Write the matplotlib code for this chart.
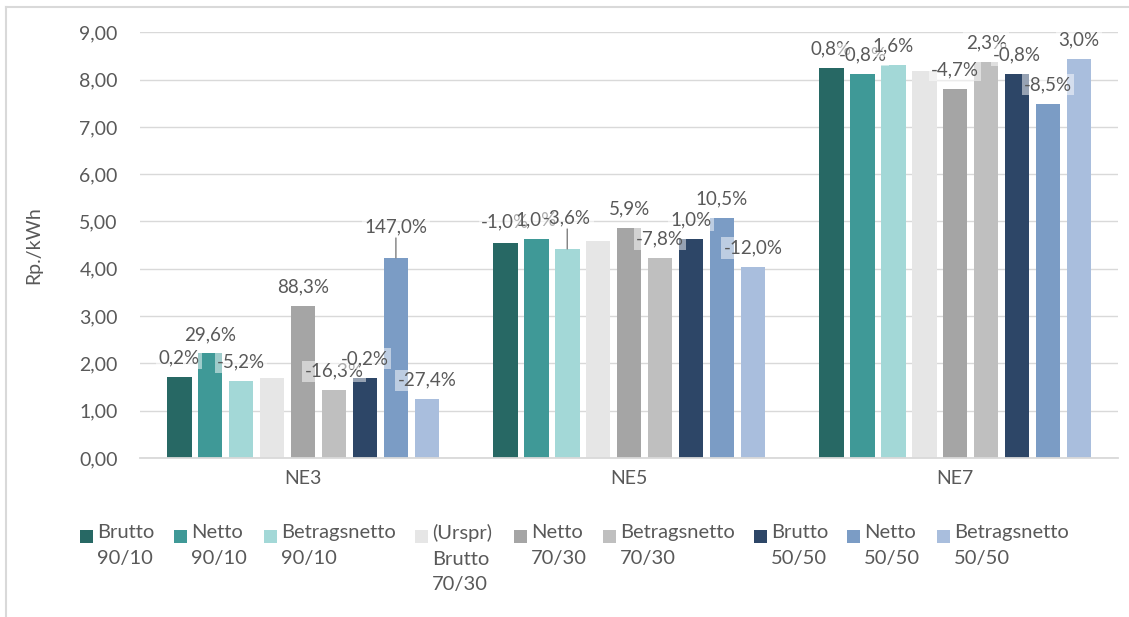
import numpy as np
import matplotlib.pyplot as plt
from matplotlib.lines import Line2D
from matplotlib.patches import Rectangle

plt.rcParams['font.family'] = ['Lato', 'DejaVu Sans']

# ## Data ## #
categories = ['NE3', 'NE5', 'NE7']

series = ['Brutto\n90/10', 'Netto\n90/10', 'Betragsnetto\n90/10',
          '(Urspr)\nBrutto\n70/30', 'Netto\n70/30', 'Betragsnetto\n70/30',
          'Brutto\n50/50', 'Netto\n50/50', 'Betragsnetto\n50/50']

# Rp./kWh, one list per series (NE3, NE5, NE7)
brutto_90 = [1.71, 4.54, 8.24]
netto_90 = [2.21, 4.63, 8.12]
betrag_90 = [1.62, 4.42, 8.31]
urspr_70 = [1.70, 4.59, 8.18]
netto_70 = [3.22, 4.86, 7.80]
betrag_70 = [1.43, 4.23, 8.37]
brutto_50 = [1.70, 4.63, 8.12]
netto_50 = [4.23, 5.07, 7.49]
betrag_50 = [1.24, 4.04, 8.43]

values = [brutto_90, netto_90, betrag_90, urspr_70, netto_70,
          betrag_70, brutto_50, netto_50, betrag_50]

# data labels (change vs. original Brutto 70/30), '' = no label
lab_brutto_90 = ['0,2%', '-1,0%', '0,8%']
lab_netto_90 = ['29,6%', '1,0%', '-0,8%']
lab_betrag_90 = ['-5,2%', '-3,6%', '1,6%']
lab_urspr_70 = ['', '', '']
lab_netto_70 = ['88,3%', '5,9%', '-4,7%']
lab_betrag_70 = ['-16,3%', '-7,8%', '2,3%']
lab_brutto_50 = ['-0,2%', '1,0%', '-0,8%']
lab_netto_50 = ['147,0%', '10,5%', '-8,5%']
lab_betrag_50 = ['-27,4%', '-12,0%', '3,0%']

labels = [lab_brutto_90, lab_netto_90, lab_betrag_90, lab_urspr_70,
          lab_netto_70, lab_betrag_70, lab_brutto_50, lab_netto_50,
          lab_betrag_50]

# ## Style ## #
colors = ['#276864', '#3F9997', '#A3D8D7', '#E6E6E6', '#A5A5A5',
          '#BFBFBF', '#2D4667', '#7B9CC5', '#A9BEDD']
textColor = '#595959'
gridColor = '#D9D9D9'

pitch = 0.0949  # distance between bars inside a group
width = 0.0751

# extra lift (points) of a few labels that sit higher, with leader line
lift = {(7, 0): 8.5, (2, 1): 8.5, (0, 1): 2.0}
leader = [(7, 0), (2, 1)]

W, H = 1129, 617
fig = plt.figure(figsize=(W / 100, H / 100), dpi=100)
ax = fig.add_axes([140 / W, 1 - 458 / H, (1118.3 - 140) / W,
                   (458 - 32.3) / H])

x = np.arange(len(categories))
for i, (vals, labs) in enumerate(zip(values, labels)):
    xi = x + (i - 4) * pitch
    ax.bar(xi, vals, width, color=colors[i], zorder=2)
    for j in range(len(categories)):
        if labs[j] == '':
            continue
        dy = 13.7 + lift.get((i, j), 0)
        ax.annotate(labs[j], (xi[j], vals[j]), xytext=(0, dy),
                    textcoords='offset points', ha='center', va='center',
                    fontsize=13.5, color=textColor, zorder=4,
                    bbox=dict(boxstyle='square,pad=0.12', fc='white',
                              ec='none', alpha=0.5))
        if (i, j) in leader:
            ax.annotate('', (xi[j], vals[j]), xytext=(0, dy - 7.5),
                        textcoords='offset points', zorder=3,
                        arrowprops=dict(arrowstyle='-', color='#7F7F7F',
                                        lw=1, shrinkA=0, shrinkB=0))

ax.set_xlim(-0.5, 2.5)
ax.set_ylim(0, 9)
ax.set_yticks(np.arange(0, 10))
ax.yaxis.set_major_formatter(
    plt.FuncFormatter(lambda v, p: ('%.2f' % v).replace('.', ',')))
ax.set_xticks(x)
ax.set_xticklabels(categories)
ax.tick_params(axis='both', length=0, labelsize=14, colors=textColor)
ax.tick_params(axis='y', pad=16)
ax.tick_params(axis='x', pad=9)
ax.grid(axis='y', color=gridColor, lw=1, zorder=0)
ax.set_axisbelow(True)
for s in ['top', 'right', 'left']:
    ax.spines[s].set_visible(False)
ax.spines['bottom'].set_color(gridColor)
ax.spines['bottom'].set_linewidth(1.3)
ax.spines['bottom'].set_zorder(3)

ax.set_ylabel('Rp./kWh', fontsize=14, color=textColor)
ax.yaxis.set_label_coords(-0.1, 0.5)

# legend drawn by hand, Excel style (square next to first text line)
legX = [80, 174, 264, 415, 514, 603, 754, 847, 937]
legY = 536
for i, name in enumerate(series):
    fig.add_artist(Rectangle((legX[i] / W, 1 - (legY + 6.5) / H),
                             13 / W, 13 / H, transform=fig.transFigure,
                             color=colors[i], lw=0))
    fig.text((legX[i] + 17) / W, 1 - (legY - 12) / H, name, ha='left',
             va='top', fontsize=14.5, color=textColor, linespacing=1.62)

# chart frame
fig.add_artist(Line2D([6 / W, 6 / W], [0, 1 - 7 / H], color=gridColor,
                      lw=1.5, transform=fig.transFigure))
fig.add_artist(Line2D([6 / W, 1], [1 - 7 / H, 1 - 7 / H], color=gridColor,
                      lw=1.5, transform=fig.transFigure))

plt.savefig('out.png', dpi=100, facecolor='w')
